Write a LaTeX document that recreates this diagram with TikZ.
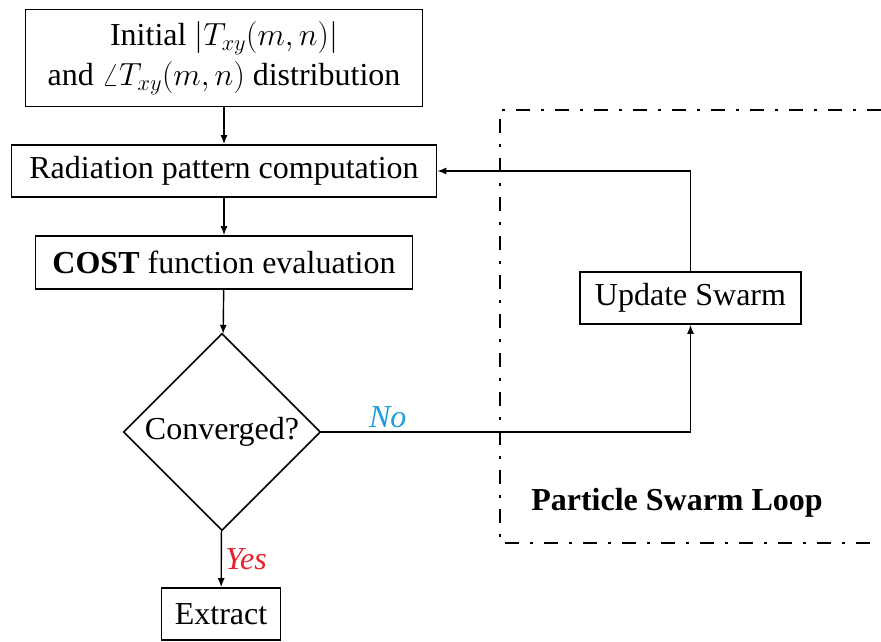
\RequirePackage{fix-cm}
\documentclass[tikz,border=0pt]{standalone}
\usepackage{fontspec}
\setmainfont{Liberation Serif}
\usetikzlibrary{positioning,arrows.meta,shapes.geometric,calc}
\definecolor{cno}{HTML}{1E9FDB}
\definecolor{cyes}{HTML}{E8202A}

\begin{document}
\begin{tikzpicture}[x=1pt,y=-1pt,>={Latex[length=9pt,width=7pt]},
  font=\fontsize{32}{40}\selectfont,
  stepbox/.style={draw,line width=1.6pt,inner sep=0pt,align=center},
  flow/.style={->,line width=1.4pt},
  loopframe/.style={line width=2.6pt,dash pattern=on 14pt off 11pt on 3pt off 11pt}]
\useasboundingbox (0,0) rectangle (881,641);
% main column
\node[stepbox,minimum width=397pt,minimum height=97pt] (init) at (224,58)
  {Initial $\bigl|T_{xy}(m,n)\bigr|$\\and $\angle T_{xy}(m,n)$ distribution};
\node[stepbox,minimum width=425pt,minimum height=52pt] (rad) at (224,171)
  {Radiation pattern computation};
\node[stepbox,minimum width=377pt,minimum height=53pt] (cost) at (224,262.5)
  {\textbf{COST} function evaluation};
\node[draw,diamond,line width=1.6pt,inner sep=0pt,minimum width=197pt,minimum height=197pt]
  (conv) at (222,432) {Converged?};
\node[stepbox,minimum width=119pt,minimum height=52pt] (extr) at (221,614)
  {Extract};
% swarm loop
\node[stepbox,minimum width=221pt,minimum height=52pt] (upd) at (690.5,298)
  {Update Swarm};
\draw[loopframe] (881,110) -- (500,110) -- (500,543) -- (881,543);
\node[font=\fontsize{32}{40}\selectfont\bfseries] (psl) at (677,503) {Particle Swarm Loop};
% connectors
\draw[flow] (init) -- (rad);
\draw[flow] (rad) -- (cost);
\draw[flow] (cost) -- (conv);
\draw[flow] (conv) -- node[right,cyes,font=\fontsize{32}{40}\selectfont\itshape]{Yes} (extr);
\draw[flow] (conv.east) -| node[pos=0.09,above,cno,font=\fontsize{32}{40}\selectfont\itshape]{No} (upd.south);
\draw[flow] (upd.north) |- (rad.east);
\end{tikzpicture}
\end{document}
